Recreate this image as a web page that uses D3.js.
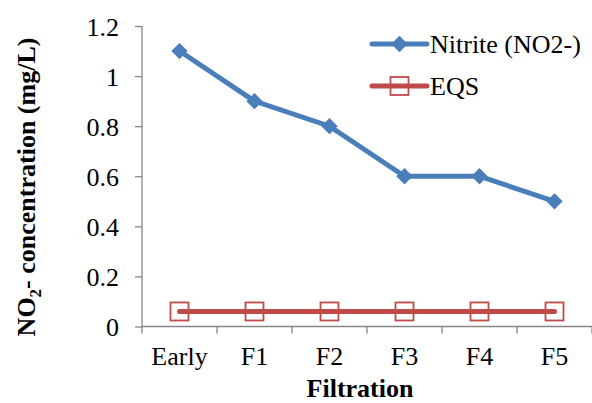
<!DOCTYPE html>
<html lang="en">
<head>
    <meta charset="UTF-8">
    <title>Nitrite vs EQS</title>
    <script src="https://d3js.org/d3.v7.min.js"></script>
    <style>
        body {
            margin: 0;
            padding: 0;
            background: white;
        }
        svg {
            display: block;
            font-family: 'Liberation Serif', 'Times New Roman', serif;
        }
        .axis path, .axis line {
            stroke: #868686;
            stroke-width: 1.3;
        }
        .axis text {
            font-size: 26px;
            fill: black;
            font-family: 'Liberation Serif', 'Times New Roman', serif;
        }
    </style>
</head>
<body>
    <svg width="592" height="403"></svg>
    <script>
        const categories = ["Early", "F1", "F2", "F3", "F4", "F5"];
        const nitrite = [1.1, 0.9, 0.8, 0.6, 0.6, 0.5];
        const eqs = [0.06, 0.06, 0.06, 0.06, 0.06, 0.06];
        const yTicks = [0, 0.2, 0.4, 0.6, 0.8, 1, 1.2];
        const yTickLabels = ["0", "0.2", "0.4", "0.6", "0.8", "1", "1.2"];

        const svg = d3.select("svg");
        const blue = "#4a7ebb";
        const red = "#be4b48";

        const x = d3.scaleBand()
            .domain(categories)
            .range([142, 592])
            .padding(0);

        const y = d3.scaleLinear()
            .domain([0, 1.2])
            .range([326.5, 26]);

        const cx = function(d, i) { return x(categories[i]) + x.bandwidth() / 2; };

        // y axis
        const yAxis = svg.append("g")
            .attr("class", "axis")
            .attr("transform", "translate(" + x.range()[0] + ",0)")
            .call(d3.axisLeft(y)
                .tickValues(yTicks)
                .tickSize(7)
                .tickPadding(16)
                .tickFormat(function(d, i) { return yTickLabels[i]; }));
        yAxis.select(".domain").attr("d", "M0," + y(1.2) + "V" + y(0));
        yAxis.selectAll("text").attr("dy", "0.35em");

        // x axis line + ticks at category boundaries
        const xAxis = svg.append("g").attr("class", "axis");
        xAxis.append("line")
            .attr("x1", x.range()[0])
            .attr("x2", x.range()[1])
            .attr("y1", y(0))
            .attr("y2", y(0));

        const bounds = categories.map(function(c) { return x(c); }).concat([x.range()[1]]);
        xAxis.selectAll(".xtick")
            .data(bounds)
            .enter()
            .append("line")
            .attr("class", "xtick")
            .attr("x1", function(d) { return d; })
            .attr("x2", function(d) { return d; })
            .attr("y1", y(0))
            .attr("y2", y(0) + 7);

        xAxis.selectAll(".xlabel")
            .data(categories)
            .enter()
            .append("text")
            .attr("class", "xlabel")
            .attr("x", function(d) { return x(d) + x.bandwidth() / 2; })
            .attr("y", y(0) + 38)
            .attr("text-anchor", "middle")
            .text(function(d) { return d; });

        // axis titles
        svg.append("text")
            .attr("x", 360)
            .attr("y", 397)
            .attr("text-anchor", "middle")
            .style("font-size", "26px")
            .style("font-weight", "bold")
            .text("Filtration");

        const yTitle = svg.append("text")
            .attr("transform", "translate(35,187) rotate(-90)")
            .attr("text-anchor", "middle")
            .style("font-size", "26px")
            .style("font-weight", "bold");
        yTitle.append("tspan").text("NO");
        yTitle.append("tspan").attr("dy", 6).style("font-size", "17px").text("2");
        yTitle.append("tspan").attr("dy", -6).text("- concentration (mg/L)");

        // lines
        const line = d3.line()
            .x(function(d, i) { return cx(d, i); })
            .y(function(d) { return y(d); });

        svg.append("path")
            .datum(eqs)
            .attr("d", line)
            .attr("fill", "none")
            .attr("stroke", red)
            .attr("stroke-width", 5)
            .attr("stroke-linecap", "round");

        svg.selectAll(".eqs-marker")
            .data(eqs)
            .enter()
            .append("rect")
            .attr("class", "eqs-marker")
            .attr("x", function(d, i) { return cx(d, i) - 9; })
            .attr("y", function(d) { return y(d) - 9; })
            .attr("width", 18)
            .attr("height", 18)
            .attr("fill", "none")
            .attr("stroke", red)
            .attr("stroke-width", 1.8);

        svg.append("path")
            .datum(nitrite)
            .attr("d", line)
            .attr("fill", "none")
            .attr("stroke", blue)
            .attr("stroke-width", 5)
            .attr("stroke-linecap", "round");

        const diamond = d3.symbol().type(d3.symbolDiamond2).size(170);
        svg.selectAll(".nitrite-marker")
            .data(nitrite)
            .enter()
            .append("path")
            .attr("class", "nitrite-marker")
            .attr("d", diamond)
            .attr("transform", function(d, i) { return "translate(" + cx(d, i) + "," + y(d) + ")"; })
            .attr("fill", blue);

        // legend
        const legend = [
            { label: "Nitrite (NO2-)", color: blue, marker: "diamond" },
            { label: "EQS", color: red, marker: "square" }
        ];
        legend.forEach(function(d, i) {
            const ly = 44 + i * 42;
            svg.append("line")
                .attr("x1", 372).attr("x2", 427)
                .attr("y1", ly).attr("y2", ly)
                .attr("stroke", d.color)
                .attr("stroke-width", 5)
                .attr("stroke-linecap", "round");
            if (d.marker === "diamond") {
                svg.append("path")
                    .attr("d", diamond)
                    .attr("transform", "translate(399.5," + ly + ")")
                    .attr("fill", d.color);
            } else {
                svg.append("rect")
                    .attr("x", 399.5 - 9).attr("y", ly - 9)
                    .attr("width", 18).attr("height", 18)
                    .attr("fill", "none")
                    .attr("stroke", d.color)
                    .attr("stroke-width", 1.8);
            }
            svg.append("text")
                .attr("x", 430)
                .attr("y", ly + 9)
                .style("font-size", "26px")
                .text(d.label);
        });
    </script>
</body>
</html>
